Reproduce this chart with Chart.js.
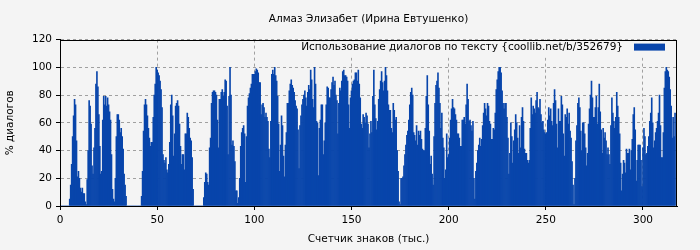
<!DOCTYPE html>
<html>
<head>
<meta charset="utf-8">
<script src="https://cdn.jsdelivr.net/npm/chart.js@4"></script>
<style>
  html, body { margin: 0; padding: 0; background: #f4f4f4; }
</style>
</head>
<body>
<canvas id="myChart" width="700" height="250"></canvas>
<script>
const chartTitle = 'Алмаз Элизабет (Ирина Евтушенко)';
const seriesLabel = 'Использование диалогов по тексту {coollib.net/b/352679}';
const xTitle = 'Счетчик знаков (тыс.)';
const yTitle = '% диалогов';

// one bar per 0.5 thousand characters, starting at 0
const xStep = 0.5;
const xTicks = [0, 50, 100, 150, 200, 250, 300];
const yTicks = [0, 20, 40, 60, 80, 100, 120];

const dialogPct = [
  0,0,0,0,0,0,0,0,0,0,
  5,15,30,50,65,77,73,47,21,25,20,13,10,13,9,9,
  3,1,19,40,76,72,59,29,23,42,56,88,97,86,66,43,23,25,62,79,73,79,72,78,73,68,62,37,12,5,3,20,50,66,66,
  62,53,56,50,41,23,15,7,0,0,0,0,0,0,0,0,0,0,0,0,0,0,0,7,25,54,73,77,73,65,56,49,43,46,46,
  64,80,88,100,98,96,94,90,84,71,37,33,31,35,26,24,30,46,73,80,65,36,52,72,74,76,72,59,43,30,37,37,26,52,52,
  67,64,56,49,47,35,12,0,0,0,0,0,0,0,0,0,0,6,17,24,23,17,15,42,49,74,82,83,83,82,80,62,42,77,77,
  82,84,79,82,91,90,72,37,79,100,80,44,47,43,32,11,11,2,6,20,43,53,56,58,52,17,50,72,78,81,85,88,95,95,95,
  97,99,98,96,89,89,66,73,74,71,64,67,64,61,41,35,61,95,98,95,100,94,90,79,59,25,44,65,58,36,21,44,53,74,74,
  83,88,91,87,85,82,76,72,70,55,27,58,65,73,77,80,83,78,72,82,87,84,98,91,77,71,100,88,61,60,22,56,62,73,73,
  37,47,60,73,86,85,78,78,84,89,93,87,90,80,76,52,74,85,83,90,97,98,94,94,93,90,73,56,78,83,88,90,91,96,96,
  90,98,88,78,59,56,66,64,60,67,65,59,42,52,61,53,79,98,73,63,55,61,77,84,90,97,89,83,90,100,94,83,73,69,69,
  56,53,74,69,62,64,40,25,3,1,20,20,21,29,37,44,51,54,62,73,82,85,80,53,51,47,58,44,54,51,54,48,41,40,40,
  56,79,94,73,54,30,36,23,15,50,74,87,90,96,85,74,56,67,49,42,20,26,52,35,37,49,62,70,77,71,70,66,62,52,52,
  49,43,43,62,62,64,59,73,88,77,61,62,58,54,61,20,5,25,31,40,44,49,43,48,58,67,74,70,65,74,72,61,59,48,48,
  56,55,67,84,91,97,100,100,96,83,74,70,74,74,64,49,23,38,60,50,31,47,55,66,60,49,38,58,42,64,71,61,41,38,38,
  33,31,33,56,78,66,72,70,67,76,82,71,70,77,66,60,61,55,53,52,53,62,71,65,70,61,58,74,84,76,59,42,70,61,61,
  79,73,52,36,66,64,70,59,67,54,49,32,15,1,20,47,58,74,78,71,54,40,60,60,52,42,29,38,59,70,80,90,78,64,64,
  71,79,59,71,88,68,55,38,56,49,53,47,37,42,37,30,58,78,67,61,56,64,82,72,64,52,31,11,23,33,31,24,41,38,38,
  41,26,40,48,66,71,55,18,33,44,44,44,33,14,42,56,50,37,38,43,50,61,67,78,60,42,47,53,56,61,67,80,58,35,35,
  53,85,97,100,98,97,93,84,72,49,64,50,67
];

const barColor = '#0845ab';
const plotBg = '#f4f4f4';
const gridColor = '#a0a0a0';
const fontSize = 10.5;

const points = dialogPct.map((v, i) => ({ x: i * xStep, y: v }));

Chart.defaults.font.family = '"DejaVu Sans", sans-serif';
Chart.defaults.font.size = fontSize;
Chart.defaults.color = '#000';

// black frame round the plot area
const frame = {
  id: 'frame',
  afterDatasetsDraw(chart) {
    const { ctx, chartArea: a } = chart;
    ctx.save();
    ctx.setLineDash([]);
    ctx.strokeStyle = '#000';
    ctx.lineWidth = 1;
    ctx.strokeRect(Math.round(a.left) + 0.5, Math.round(a.top) + 0.5,
                   Math.round(a.width) - 1, Math.round(a.height));
    ctx.restore();
  }
};

// legend inside the plot, top right, swatch after the text
const legendBox = {
  id: 'legendBox',
  beforeDatasetsDraw(chart) {
    const { ctx, chartArea: a } = chart;
    const ds = chart.data.datasets[0];
    ctx.save();
    ctx.font = fontSize + 'px "DejaVu Sans"';
    const tw = ctx.measureText(ds.label).width;
    const swR = a.right - 12, swL = swR - 31;
    const textR = swL - 11;
    ctx.fillStyle = plotBg;
    ctx.fillRect(textR - tw - 4, a.top + 1, a.right - (textR - tw - 4) - 1, 17);
    ctx.fillStyle = '#000';
    ctx.textAlign = 'right';
    ctx.textBaseline = 'middle';
    ctx.fillText(ds.label, textR, a.top + 8);
    ctx.fillStyle = ds.backgroundColor;
    ctx.fillRect(swL, a.top + 4, 31, 7);
    ctx.restore();
  }
};

new Chart(document.getElementById('myChart'), {
  type: 'bar',
  data: {
    datasets: [{
      label: seriesLabel,
      data: points,
      backgroundColor: barColor,
      borderWidth: 0,
      barPercentage: 1,
      categoryPercentage: 1
    }]
  },
  options: {
    responsive: false,
    animation: false,
    layout: { padding: { left: 0, right: 23, top: 0, bottom: 0 } },
    plugins: {
      legend: { display: false },
      tooltip: { enabled: false },
      title: {
        display: true,
        text: chartTitle,
        fullSize: false,
        font: { size: fontSize, weight: 'normal' },
        padding: { top: 13, bottom: 14 }
      }
    },
    scales: {
      x: {
        type: 'linear',
        offset: false,
        min: 0,
        max: 317.5,
        afterBuildTicks: axis => { axis.ticks = xTicks.map(v => ({ value: v })); },
        afterFit: s => { s.height = 44; },
        ticks: { padding: 4, maxRotation: 0 },
        grid: { offset: false, color: gridColor, tickLength: 4, tickColor: '#000', tickBorderDash: [] },
        border: { color: '#000', dash: [3, 3] },
        title: { display: true, text: xTitle, padding: { top: 4, bottom: 4 } }
      },
      y: {
        min: 0,
        max: 120,
        afterBuildTicks: axis => { axis.ticks = yTicks.map(v => ({ value: v })); },
        afterFit: s => { s.width = 60; },
        ticks: { padding: 4 },
        grid: { offset: false, color: gridColor, tickLength: 4, tickColor: '#000', tickBorderDash: [] },
        border: { color: '#000', dash: [3, 3] },
        title: { display: true, text: yTitle, padding: { top: 4, bottom: 4 } }
      }
    }
  },
  plugins: [legendBox, frame]
});
</script>
</body>
</html>
